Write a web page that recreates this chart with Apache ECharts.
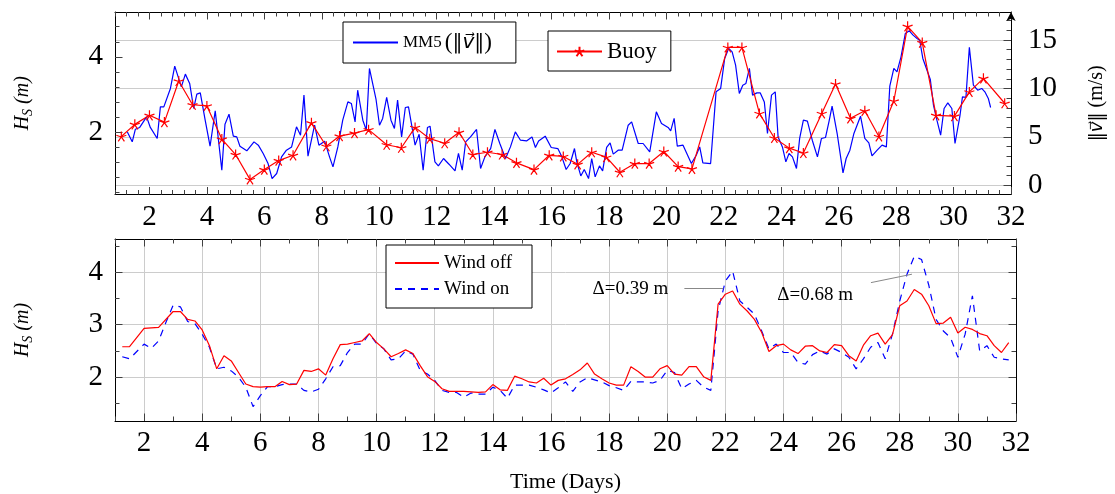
<!DOCTYPE html>
<html><head><meta charset="utf-8">
<script src="https://cdn.jsdelivr.net/npm/echarts@6/dist/echarts.min.js"></script>
<style>html,body{margin:0;padding:0;background:#fff}#c{width:1115px;height:494px}</style>
</head><body><div id="c"></div>
<script>
// ---------------- DATA ----------------
const buoyDays = [1.02,1.49,2.0,2.52,3.02,3.5,4.0,4.52,5.0,5.5,6.0,6.5,7.0,7.64,8.16,8.62,9.14,9.63,10.26,10.77,11.25,11.76,12.28,12.78,13.26,13.77,14.28,14.78,15.39,15.92,16.41,16.91,17.4,17.91,18.38,18.9,19.4,19.91,20.41,20.89,22.14,22.63,23.24,23.76,24.28,24.77,25.41,25.89,26.41,26.91,27.4,27.92,28.4,28.91,29.39,30.03,30.55,31.04,31.78];
const buoyHs = [1.89,2.21,2.45,2.27,3.36,2.73,2.70,1.82,1.41,0.75,1.01,1.25,1.39,2.25,1.63,1.90,1.98,2.07,1.67,1.59,2.13,1.83,1.71,2.00,1.41,1.47,1.41,1.19,1.01,1.39,1.36,1.15,1.47,1.34,0.94,1.17,1.17,1.49,1.09,1.03,4.25,4.25,2.50,1.85,1.58,1.45,2.50,3.28,2.37,2.57,1.89,2.83,4.81,4.38,2.45,2.43,3.07,3.43,2.77];

const mm5Days = [1.23,1.40,1.51,1.66,1.90,2.03,2.27,2.38,2.50,2.73,2.88,3.11,3.25,3.40,3.54,3.65,3.77,3.94,4.11,4.29,4.52,4.63,4.77,4.92,5.04,5.15,5.39,5.64,5.79,5.96,6.13,6.27,6.43,6.60,6.77,6.95,7.12,7.26,7.38,7.52,7.75,7.90,8.10,8.27,8.39,8.56,8.73,8.91,9.03,9.16,9.25,9.43,9.55,9.66,9.89,10.01,10.12,10.26,10.41,10.53,10.64,10.78,10.91,11.02,11.25,11.39,11.53,11.68,11.77,11.94,12.06,12.24,12.43,12.64,12.76,12.89,13.01,13.18,13.39,13.53,13.68,13.88,14.03,14.20,14.40,14.57,14.74,14.92,15.13,15.32,15.44,15.55,15.78,15.99,16.22,16.36,16.51,16.65,16.80,16.88,17.02,17.14,17.29,17.40,17.52,17.67,17.78,17.92,18.04,18.15,18.32,18.46,18.67,18.79,19.02,19.19,19.42,19.65,19.83,20.06,20.15,20.27,20.38,20.58,20.87,21.04,21.16,21.27,21.54,21.73,21.89,22.03,22.17,22.29,22.41,22.54,22.66,22.77,22.89,23.00,23.15,23.27,23.41,23.52,23.66,23.79,23.89,24.04,24.16,24.27,24.39,24.53,24.64,24.77,24.91,25.08,25.26,25.40,25.54,25.66,25.77,25.95,26.15,26.26,26.39,26.53,26.64,26.76,26.91,27.05,27.16,27.34,27.51,27.66,27.78,27.92,28.03,28.17,28.32,28.46,28.59,28.73,28.82,28.93,29.19,29.30,29.42,29.55,29.67,29.80,29.94,30.05,30.22,30.31,30.43,30.55,30.69,30.84,30.98,31.09,31.21,31.29];
const mm5Speed = [5.51,4.48,5.79,5.97,7.06,5.97,4.83,8.10,8.10,10.0,12.3,10.16,11.48,10.52,7.93,9.41,9.54,6.72,4.03,7.68,1.55,6.31,7.34,5.07,4.99,4.03,3.55,4.48,4.14,3.28,2.24,0.69,1.21,2.93,3.62,3.96,6.03,5.17,9.31,3.00,6.20,4.14,4.55,2.93,1.89,3.96,6.72,8.61,8.45,6.55,9.82,6.72,5.69,12.07,8.86,6.20,6.90,9.07,6.72,5.86,8.79,4.99,8.03,8.10,4.14,5.27,1.55,5.97,6.10,2.41,2.00,2.76,2.17,1.48,3.28,1.55,4.48,4.99,5.76,1.73,2.93,3.79,5.76,4.31,2.76,3.96,5.51,4.65,4.58,4.99,3.90,4.58,5.07,3.90,3.79,2.93,1.62,2.24,3.79,2.41,0.96,1.62,0.69,2.76,0.86,2.00,1.48,3.90,4.37,3.21,3.62,3.62,6.20,6.55,4.31,4.31,3.44,7.58,6.38,5.97,5.62,6.90,4.03,4.14,2.24,3.10,3.96,2.31,2.24,9.65,10.0,13.10,14.14,13.78,12.41,9.48,10.34,10.52,12.07,9.31,9.54,9.54,8.61,5.35,9.31,9.65,4.99,3.96,2.41,3.28,2.93,1.73,4.83,6.72,6.62,4.65,2.93,4.83,4.93,6.55,8.17,5.27,1.27,2.76,3.62,5.35,6.20,7.13,4.83,4.37,3.03,3.62,4.14,3.96,10.24,12.07,11.72,13.27,15.69,15.96,15.51,15.17,14.99,13.10,10.93,8.27,6.72,5.17,7.93,8.51,7.93,4.31,7.13,9.13,9.07,14.24,10.34,9.82,10.0,9.65,8.97,8.03];

const offDays = [1.25,1.5,2.0,2.5,3.0,3.25,3.5,3.75,4.0,4.25,4.5,4.75,5.0,5.25,5.5,5.75,6.0,6.25,6.5,6.75,7.0,7.25,7.5,7.75,8.0,8.25,8.5,8.75,9.0,9.25,9.5,9.75,10.0,10.25,10.5,10.75,11.0,11.25,11.5,11.75,12.0,12.25,12.5,12.75,13.0,13.25,13.5,13.75,14.0,14.25,14.5,14.75,15.0,15.25,15.5,15.75,16.0,16.25,16.5,16.75,17.0,17.25,17.5,17.75,18.0,18.25,18.5,18.75,19.0,19.25,19.5,19.75,20.0,20.25,20.5,20.75,21.0,21.25,21.5,21.75,22.0,22.25,22.5,22.75,23.0,23.25,23.5,23.75,24.0,24.25,24.5,24.75,25.0,25.25,25.5,25.75,26.0,26.25,26.5,26.75,27.0,27.25,27.5,27.75,28.0,28.25,28.5,28.75,29.0,29.25,29.5,29.75,30.0,30.25,30.5,30.75,31.0,31.25,31.5,31.75];
const offHs = [2.58,2.58,2.93,2.95,3.25,3.25,3.10,3.07,2.90,2.60,2.16,2.41,2.31,2.09,1.87,1.82,1.81,1.82,1.82,1.92,1.86,1.87,2.13,2.11,2.16,2.04,2.35,2.62,2.63,2.66,2.69,2.83,2.66,2.54,2.39,2.45,2.52,2.45,2.22,2.01,1.92,1.78,1.73,1.73,1.73,1.72,1.71,1.72,1.86,1.76,1.75,2.02,1.97,1.91,1.89,1.98,1.85,1.94,1.97,2.05,2.14,2.27,2.06,1.97,1.89,1.85,1.85,2.20,2.11,2.00,2.00,2.16,2.22,2.06,2.04,2.20,2.20,2.01,1.94,3.39,3.58,3.64,3.39,3.26,3.10,2.85,2.49,2.60,2.63,2.52,2.45,2.59,2.60,2.50,2.47,2.62,2.60,2.41,2.31,2.61,2.79,2.84,2.63,2.81,3.36,3.45,3.67,3.58,3.36,3.02,3.03,3.14,2.84,2.95,2.91,2.83,2.79,2.60,2.47,2.66];

const onDays = [1.25,1.5,2.0,2.25,2.5,2.75,3.0,3.25,3.5,3.75,4.0,4.25,4.5,4.75,5.0,5.25,5.5,5.75,6.0,6.25,6.5,6.75,7.0,7.25,7.5,7.75,8.0,8.25,8.5,8.75,9.0,9.25,9.5,9.75,10.0,10.25,10.5,10.75,11.0,11.25,11.5,11.75,12.0,12.25,12.5,12.75,13.0,13.25,13.5,13.75,14.0,14.25,14.5,14.75,15.0,15.25,15.5,15.75,16.0,16.25,16.5,16.75,17.0,17.25,17.5,17.75,18.0,18.25,18.5,18.75,19.0,19.25,19.5,19.75,20.0,20.25,20.5,20.75,21.0,21.25,21.5,21.75,22.0,22.25,22.5,22.75,23.0,23.25,23.5,23.75,24.0,24.25,24.5,24.75,25.0,25.25,25.5,25.75,26.0,26.25,26.5,26.75,27.0,27.25,27.5,27.75,28.0,28.25,28.5,28.75,29.0,29.25,29.5,29.75,30.0,30.25,30.5,30.75,31.0,31.25,31.5,31.75];
const onHs = [2.39,2.35,2.63,2.55,2.69,3.04,3.37,3.34,3.06,3.02,2.82,2.57,2.16,2.19,2.12,2.00,1.81,1.44,1.65,1.82,1.82,1.86,1.87,1.87,1.75,1.72,1.77,1.97,2.20,2.22,2.47,2.63,2.63,2.83,2.64,2.54,2.33,2.35,2.50,2.44,2.13,2.06,1.94,1.75,1.71,1.71,1.62,1.70,1.68,1.68,1.81,1.75,1.60,1.85,1.85,1.85,1.81,1.76,1.70,1.80,1.91,1.73,1.91,1.99,1.95,1.91,1.84,1.80,1.75,1.92,1.91,1.91,1.89,1.94,2.13,2.09,1.78,1.87,1.94,1.81,1.75,3.26,3.83,4.02,3.45,3.33,3.20,2.88,2.54,2.63,2.47,2.47,2.28,2.25,2.43,2.50,2.44,2.54,2.47,2.38,2.16,2.35,2.57,2.66,2.35,2.82,3.45,3.96,4.30,4.24,3.75,3.10,2.88,2.75,2.38,2.82,3.55,2.50,2.60,2.38,2.35,2.33];

// tick labels
const topXLabels = [2,4,6,8,10,12,14,16,18,20,22,24,26,28,30,32];
const botXLabels = [2,4,6,8,10,12,14,16,18,20,22,24,26,28,30,32];
const topLeftLabels = [2,4];
const topRightLabels = [0,5,10,15];
const botYLabels = [2,3,4];

// annotations
const annotText = ['Δ=0.39 m', 'Δ=0.68 m'];
const annotTextPos = [[18.73, 3.67], [25.09, 3.56]];
const annotLines = [[[20.59, 3.70], [21.93, 3.70]], [[27.01, 3.80], [28.42, 3.96]]];

// ---------------- CHART ----------------
const FONT = 'Liberation Serif';
const SYMF = 'DejaVu Sans';
const zip = (a, b) => a.map((d, i) => [d, b[i]]);
function steps(a, b, s) { const r = []; for (let k = 0; a + k * s <= b + 1e-9; k++) r.push(+(a + k * s).toFixed(4)); return r; }

const MAJ = 7.5, MIN = 4.5;
function ax(gi, pos, min, max, ticks, len, o) {
  o = o || {};
  const a = {
    type: 'value', gridIndex: gi, position: pos, min: min, max: max,
    splitNumber: o.splitNumber || 5,
    axisLine: { show: !!o.line, onZero: false, lineStyle: { color: '#000', width: 1 } },
    axisTick: { show: true, inside: true, length: len, customValues: ticks, lineStyle: { color: '#404040', width: 1 } },
    axisLabel: o.labels ? { show: true, customValues: o.labels, fontFamily: FONT, fontSize: 29, color: '#000', margin: o.margin || 8 } : { show: false },
    splitLine: { show: !!o.split, lineStyle: { color: '#cccccc', width: 1 } },
    minorTick: { show: false }
  };
  if (o.arrow) { a.axisLine.symbol = ['none', 'arrow']; a.axisLine.symbolSize = [7, 9]; }
  if (o.name) {
    a.name = o.name; a.nameLocation = 'middle'; a.nameGap = o.nameGap; a.nameRotate = o.nameRotate;
    a.nameTextStyle = o.nameTextStyle;
  }
  return a;
}

const nameStyle = {
  fontFamily: FONT, fontSize: 20, color: '#000',
  rich: {
    i: { fontFamily: FONT, fontStyle: 'italic', fontSize: 20, color: '#000' },
    s: { fontFamily: FONT, fontStyle: 'italic', fontSize: 14, color: '#000', padding: [10, 0, 0, 0] },
    n: { fontFamily: FONT, fontSize: 20, color: '#000' },
    g: { fontFamily: 'DejaVu Serif', fontSize: 18, color: '#000' },
    v: { fontFamily: SYMF, fontStyle: 'italic', fontSize: 18, color: '#000' }
  }
};

const xAxes = [
  ax(0, 'bottom', 0.8, 32, topXLabels, MAJ, { line: true, labels: topXLabels }),
  ax(0, 'bottom', 0.8, 32, steps(0.8, 32, 0.4), MIN),
  ax(0, 'top', 0.8, 32, topXLabels, MAJ, { line: true }),
  ax(0, 'top', 0.8, 32, steps(0.8, 32, 0.4), MIN),
  ax(1, 'bottom', 1, 32, botXLabels, MAJ, { line: true, labels: botXLabels, split: true, splitNumber: 15,
     name: 'Time (Days)', nameGap: 50, nameTextStyle: { fontFamily: FONT, fontSize: 22, color: '#000' } }),
  ax(1, 'bottom', 1, 32, steps(1, 31, 2), MIN),
  ax(1, 'top', 1, 32, botXLabels, MAJ, { line: true }),
  ax(1, 'top', 1, 32, steps(1, 31, 2), MIN)
];
const yAxes = [
  ax(0, 'left', 0.35, 5.19, topLeftLabels, MAJ, { line: true, labels: topLeftLabels, margin: 12,
     name: '{i|H}{s|S} {i|(m)}', nameGap: 80, nameRotate: 90, nameTextStyle: nameStyle }),
  ax(0, 'left', 0.35, 5.19, steps(0.4, 4.8, 0.4), MIN),
  ax(0, 'right', -0.96, 17.9, topRightLabels, MAJ, { line: true, labels: topRightLabels, margin: 17, split: true, splitNumber: 4, arrow: true,
     name: '{g|‖}{v|v⃗}{g|‖} {n|(m/s)}', nameGap: 76, nameRotate: 90, nameTextStyle: nameStyle }),
  ax(0, 'right', -0.96, 17.9, steps(0, 17, 1), MIN),
  ax(1, 'left', 1.167, 4.63, botYLabels, MAJ, { line: true, labels: botYLabels, margin: 12, split: true, splitNumber: 4,
     name: '{i|H}{s|S} {i|(m)}', nameGap: 80, nameRotate: 90, nameTextStyle: nameStyle }),
  ax(1, 'left', 1.167, 4.63, [1.5, 2.5, 3.5, 4.5], MIN),
  ax(1, 'right', 1.167, 4.63, botYLabels, MAJ, { line: true }),
  ax(1, 'right', 1.167, 4.63, [1.5, 2.5, 3.5, 4.5], MIN)
];

const STAR = 'path://M0,-1L0,0M0.951,-0.309L0,0M0.588,0.809L0,0M-0.588,0.809L0,0M-0.951,-0.309L0,0';
const hideSym = { opacity: 0 };

const option = {
  animation: false,
  backgroundColor: '#fff',
  grid: [
    { left: 115, top: 12, width: 901, height: 182.5 },
    { left: 115, top: 239, width: 901, height: 183 }
  ],
  xAxis: xAxes,
  yAxis: yAxes,
  legend: [
    { data: [{ name: 'MM5', itemStyle: hideSym }], left: 343, top: 22, orient: 'horizontal', padding: [8, 24, 8, 9], itemWidth: 45, itemHeight: 12,
      borderColor: '#000', borderWidth: 1, borderRadius: 0, backgroundColor: '#fff',
      formatter: () => '{sc|MM5} {n|(}{g|‖}{v|v⃗}{g|‖}{n|)}',
      textStyle: { fontFamily: FONT, color: '#000', lineHeight: 25,
        rich: { sc: { fontFamily: FONT, fontSize: 17, color: '#000' }, n: { fontFamily: FONT, fontSize: 23, color: '#000' },
                g: { fontFamily: 'DejaVu Serif', fontSize: 20, color: '#000' },
                v: { fontFamily: SYMF, fontSize: 20, fontStyle: 'italic', color: '#000' } } } },
    { data: ['Buoy'], left: 548, top: 31, orient: 'horizontal', padding: [8, 14, 7, 8], itemWidth: 45, itemHeight: 12,
      borderColor: '#000', borderWidth: 1, borderRadius: 0, backgroundColor: '#fff',
      textStyle: { fontFamily: FONT, fontSize: 23, color: '#000', lineHeight: 25 } },
    { data: [{ name: 'Wind off', itemStyle: hideSym }, { name: 'Wind on', itemStyle: hideSym }], left: 386, top: 245, orient: 'vertical',
      padding: [8, 20, 9, 8], itemWidth: 44, itemHeight: 12, itemGap: 6,
      borderColor: '#000', borderWidth: 1, borderRadius: 0, backgroundColor: '#fff',
      textStyle: { fontFamily: FONT, fontSize: 19, color: '#000', lineHeight: 20 } }
  ],
  series: [
    { name: 'MM5', type: 'line', xAxisIndex: 0, yAxisIndex: 2, data: zip(mm5Days, mm5Speed), symbol: 'none',
      lineStyle: { color: '#0000ff', width: 1.2 }, itemStyle: { color: '#0000ff' }, z: 2 },
    { name: 'Buoy', type: 'line', xAxisIndex: 0, yAxisIndex: 0, data: zip(buoyDays, buoyHs), symbol: STAR, symbolSize: 10,
      lineStyle: { color: '#ff0000', width: 1.2 }, itemStyle: { color: '#ff0000', borderColor: '#ff0000', borderWidth: 1.2 }, z: 3 },
    { name: 'Wind off', type: 'line', xAxisIndex: 4, yAxisIndex: 4, data: zip(offDays, offHs), symbol: 'none',
      lineStyle: { color: '#ff0000', width: 1.2 }, itemStyle: { color: '#ff0000' }, z: 3,
      markLine: { silent: true, symbol: ['none', 'none'], label: { show: false }, lineStyle: { color: '#888', width: 1, type: 'solid' },
        data: annotLines.map(l => [{ coord: l[0] }, { coord: l[1] }]) },
      markPoint: { silent: true, symbol: 'rect', symbolSize: 1, itemStyle: { color: 'rgba(0,0,0,0)' },
        label: { show: true, position: 'inside', fontFamily: FONT, fontSize: 19, color: '#000', formatter: p => p.name },
        data: annotText.map((t, i) => ({ name: t, coord: annotTextPos[i] })) } },
    { name: 'Wind on', type: 'line', xAxisIndex: 4, yAxisIndex: 4, data: zip(onDays, onHs), symbol: 'none',
      lineStyle: { color: '#0000ff', width: 1.2, type: [7, 6] }, itemStyle: { color: '#0000ff' }, z: 2 }
  ]
};
const chart = echarts.init(document.getElementById('c'), null, { renderer: 'canvas' });
chart.setOption(option);
</script></body></html>
